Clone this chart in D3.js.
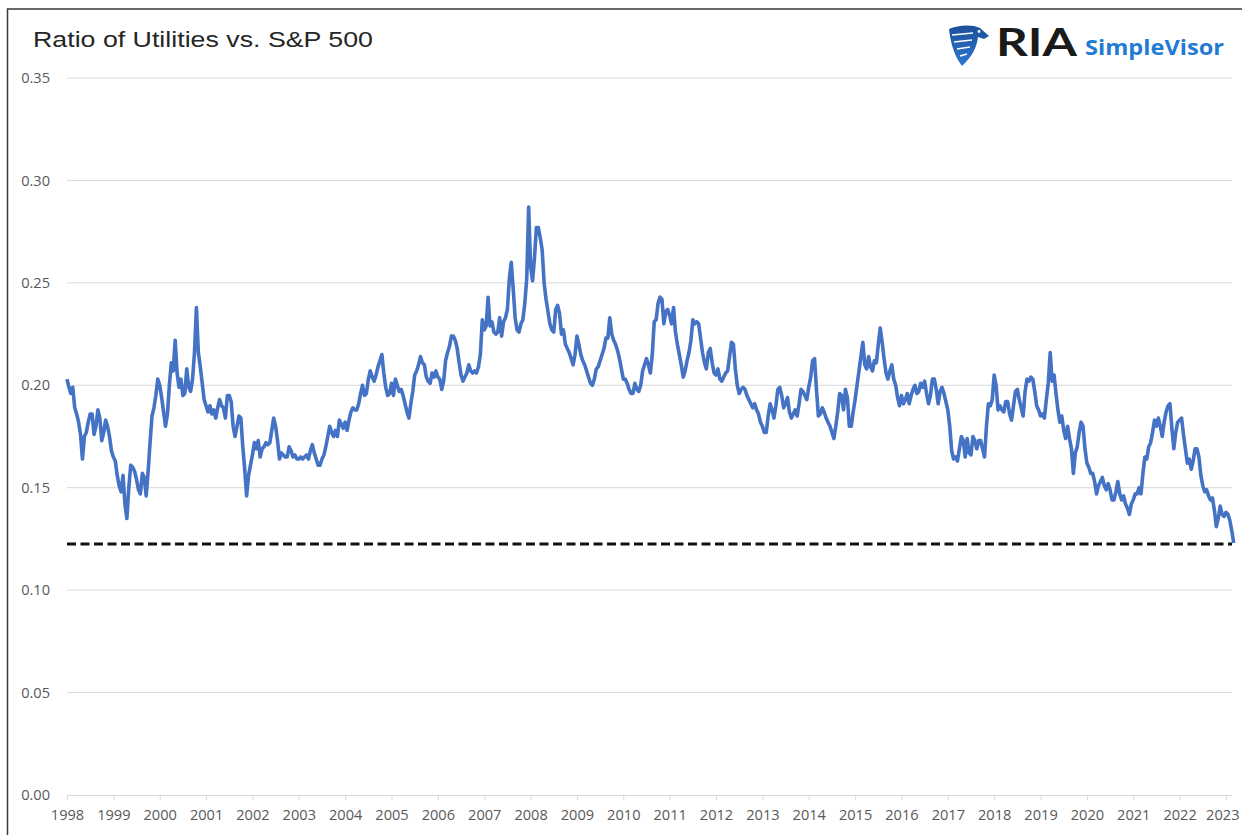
<!DOCTYPE html>
<html>
<head>
<meta charset="utf-8">
<script src="https://cdn.jsdelivr.net/npm/d3@7"></script>
<style>
  body { margin: 0; background: #ffffff; }
</style>
</head>
<body>
<script>
const svgWidth = 1242
const svgHeight = 835

const margin = {
    top: 78,
    right: 10,
    bottom: 40,
    left: 67
    }

const chartHeight = svgHeight - margin.top - margin.bottom
const chartWidth = 1232 - margin.left

// ratio readings, 24 per year (half-monthly)
const y1998 = [.203,.199,.196,.199,.189,.186,.182,.176,.164,.175,.177,.182,.186,.186,.176,.180,.188,.184,.173,.177,.183,.180,.175,.168]
const y1999 = [.165,.163,.156,.151,.148,.156,.142,.135,.150,.161,.160,.158,.154,.149,.147,.157,.155,.146,.158,.172,.185,.189,.195,.203]
const y2000 = [.200,.194,.187,.180,.186,.200,.211,.207,.222,.206,.199,.203,.195,.196,.208,.199,.197,.203,.216,.238,.216,.209,.201,.193]
const y2001 = [.190,.187,.190,.186,.188,.184,.189,.193,.190,.189,.184,.195,.195,.192,.180,.175,.180,.185,.184,.170,.159,.146,.156,.161]
const y2002 = [.166,.172,.169,.173,.165,.169,.170,.172,.171,.172,.178,.184,.180,.173,.164,.167,.166,.165,.165,.170,.168,.165,.166,.164]
const y2003 = [.164,.165,.164,.165,.166,.164,.168,.171,.167,.164,.161,.161,.164,.166,.170,.175,.180,.177,.175,.178,.175,.183,.181,.179]
const y2004 = [.182,.178,.183,.187,.189,.188,.188,.191,.196,.200,.195,.196,.203,.207,.204,.202,.205,.209,.212,.215,.206,.199,.195,.196]
const y2005 = [.201,.195,.203,.200,.197,.198,.195,.191,.187,.184,.191,.197,.205,.207,.210,.214,.211,.210,.204,.202,.201,.206,.204,.207]
const y2006 = [.204,.203,.198,.202,.212,.216,.219,.224,.224,.222,.218,.211,.205,.202,.204,.206,.210,.207,.206,.207,.206,.209,.215,.232]
const y2007 = [.227,.229,.243,.229,.231,.226,.225,.226,.233,.224,.231,.233,.237,.252,.260,.247,.233,.227,.226,.230,.232,.240,.252,.287]
const y2008 = [.258,.251,.262,.277,.277,.272,.266,.250,.242,.236,.230,.227,.226,.237,.239,.235,.225,.227,.220,.218,.216,.213,.210,.215]
const y2009 = [.224,.220,.215,.212,.210,.207,.204,.201,.200,.203,.208,.209,.212,.215,.218,.223,.223,.233,.225,.222,.220,.217,.213,.208]
const y2010 = [.203,.203,.201,.198,.196,.196,.201,.198,.197,.200,.207,.210,.213,.210,.206,.215,.231,.232,.240,.243,.242,.230,.236,.237]
const y2011 = [.234,.230,.238,.226,.220,.215,.210,.204,.207,.212,.216,.222,.232,.230,.231,.230,.223,.216,.211,.208,.216,.218,.211,.206]
const y2012 = [.205,.208,.203,.202,.204,.206,.207,.214,.221,.220,.208,.200,.196,.198,.199,.198,.195,.193,.191,.189,.191,.188,.186,.182]
const y2013 = [.180,.177,.177,.185,.191,.188,.184,.190,.198,.199,.195,.189,.191,.194,.187,.184,.186,.188,.185,.191,.198,.197,.195,.193]
const y2014 = [.199,.204,.212,.213,.198,.185,.186,.189,.187,.184,.182,.180,.177,.174,.180,.187,.196,.195,.188,.198,.194,.180,.180,.187]
const y2015 = [.193,.200,.207,.214,.221,.210,.208,.214,.209,.207,.212,.211,.220,.228,.221,.213,.206,.203,.207,.210,.203,.200,.194,.190]
const y2016 = [.195,.191,.193,.196,.191,.195,.198,.200,.196,.197,.201,.199,.202,.196,.191,.195,.203,.203,.198,.191,.197,.199,.196,.192]
const y2017 = [.188,.180,.168,.164,.165,.163,.169,.175,.173,.165,.174,.167,.166,.175,.173,.169,.173,.173,.169,.165,.180,.191,.190,.193]
const y2018 = [.205,.200,.188,.190,.188,.187,.192,.192,.186,.183,.190,.197,.198,.193,.189,.185,.197,.203,.202,.204,.203,.197,.190,.188]
const y2019 = [.185,.186,.184,.193,.201,.216,.202,.205,.196,.188,.182,.185,.178,.174,.180,.174,.169,.157,.167,.170,.177,.182,.180,.169]
const y2020 = [.162,.160,.157,.157,.153,.147,.151,.153,.155,.151,.149,.152,.149,.144,.144,.148,.153,.147,.144,.146,.142,.140,.137,.142]
const y2021 = [.144,.147,.147,.150,.147,.157,.165,.164,.170,.172,.177,.183,.180,.184,.180,.175,.182,.187,.190,.191,.179,.169,.177,.182]
const y2022 = [.183,.184,.176,.169,.162,.164,.159,.163,.169,.169,.165,.156,.151,.148,.149,.146,.144,.145,.139,.131,.135,.141,.137,.136]
const y2023 = [.138,.137,.134,.129,.123]

const years = [1998,1999,2000,2001,2002,2003,2004,2005,2006,2007,2008,2009,2010,2011,2012,2013,2014,2015,2016,2017,2018,2019,2020,2021,2022,2023]
const yTicks = [0, 0.05, 0.10, 0.15, 0.20, 0.25, 0.30, 0.35]
const floorLevel = 0.1225

const yearly = [y1998,y1999,y2000,y2001,y2002,y2003,y2004,y2005,y2006,y2007,y2008,y2009,y2010,y2011,y2012,y2013,y2014,y2015,y2016,y2017,y2018,y2019,y2020,y2021,y2022,y2023]

const data = []
yearly.forEach((vals, i) => {
    vals.forEach((v, j) => data.push({ t: years[i] + j / 24, v: v }))
})

const svg = d3.select("body").append("svg")
    .attr("height", svgHeight)
    .attr("width", svgWidth)

// outer frame
svg.append("rect")
    .attr("x", 7.5)
    .attr("y", 9)
    .attr("width", 1240)
    .attr("height", 840)
    .attr("fill", "none")
    .attr("stroke", "#3a3a3a")
    .attr("stroke-width", 1.5)

const chartG = svg.append("g")
    .attr("transform", `translate(${margin.left}, ${margin.top})`)

const x = d3.scaleLinear()
    .domain([1998, 2023.13])
    .range([0, chartWidth])

const y = d3.scaleLinear()
    .domain([0, 0.35])
    .range([chartHeight, 0])

// gridlines
chartG.append("g")
    .selectAll("line")
    .data(yTicks.slice(1))
    .enter()
    .append("line")
    .attr("x1", 0)
    .attr("x2", chartWidth)
    .attr("y1", d => y(d))
    .attr("y2", d => y(d))
    .attr("stroke", "#d9d9d9")
    .attr("stroke-width", 1)

const yAxis = d3.axisLeft(y)
    .tickValues(yTicks)
    .tickFormat(d3.format(".2f"))
    .tickSize(0)
    .tickPadding(17)

const xAxis = d3.axisBottom(x)
    .tickValues(years)
    .tickFormat(d => d)
    .tickSizeInner(5)
    .tickSizeOuter(0)
    .tickPadding(10)

const yG = chartG.append("g")
    .call(yAxis)
yG.select(".domain").remove()

const xG = chartG.append("g")
    .attr("transform", `translate(0, ${chartHeight})`)
    .call(xAxis)
xG.select(".domain")
    .attr("stroke", "#d9d9d9")
    .attr("d", `M0,0.5H${chartWidth}`)
xG.selectAll(".tick line")
    .attr("stroke", "#d9d9d9")

chartG.selectAll(".tick text")
    .attr("fill", "#595959")
    .style("font-family", "'Open Sans', sans-serif")
    .style("font-size", "14.6px")

// keep the last year label inside the picture
xG.selectAll(".tick text")
    .filter(d => d === years[years.length - 1])
    .attr("text-anchor", "end")
    .attr("x", 1239 - margin.left - x(years[years.length - 1]))

// dashed floor line
chartG.append("line")
    .attr("x1", x(1998))
    .attr("x2", chartWidth)
    .attr("y1", y(floorLevel))
    .attr("y2", y(floorLevel))
    .attr("stroke", "#111111")
    .attr("stroke-width", 3)
    .attr("stroke-dasharray", "9,4.5")

const line = d3.line()
    .x(d => x(d.t))
    .y(d => y(d.v))

chartG.append("path")
    .attr("d", line(data))
    .attr("fill", "none")
    .attr("stroke", "#4472C4")
    .attr("stroke-width", 3.6)
    .attr("stroke-linejoin", "round")

// title
svg.append("text")
    .attr("x", 33)
    .attr("y", 47)
    .attr("textLength", 340)
    .attr("lengthAdjust", "spacingAndGlyphs")
    .attr("fill", "#262626")
    .style("font-family", "'Liberation Sans', Arial, sans-serif")
    .style("font-size", "21.5px")
    .text("Ratio of Utilities vs. S&P 500")

// logo
const logo = svg.append("g")

const grad = svg.append("defs").append("linearGradient")
    .attr("id", "eagle")
    .attr("x1", "0").attr("y1", "0").attr("x2", "0").attr("y2", "1")
grad.append("stop").attr("offset", "0").attr("stop-color", "#1d4f9c")
grad.append("stop").attr("offset", "1").attr("stop-color", "#2b78d0")

logo.append("path")
    .attr("d", "M949,29 C958,25 972,24 980,28 L989,36 L984,39 L978,37 C977,47 972,57 962,66 C956,58 951,47 949,29 Z")
    .attr("fill", "url(#eagle)")

logo.selectAll(".feather")
    .data([[952, 35, 973, 33], [954, 42, 972, 40], [957, 49, 970, 47], [960, 56, 967, 54]])
    .enter()
    .append("line")
    .attr("x1", d => d[0]).attr("y1", d => d[1])
    .attr("x2", d => d[2]).attr("y2", d => d[3])
    .attr("stroke", "#ffffff")
    .attr("stroke-width", 1.6)

logo.append("circle")
    .attr("cx", 979).attr("cy", 31.5).attr("r", 1.4)
    .attr("fill", "#ffffff")

logo.append("text")
    .attr("x", 996)
    .attr("y", 56)
    .attr("textLength", 81)
    .attr("lengthAdjust", "spacingAndGlyphs")
    .attr("fill", "#1a1a1a")
    .style("font-family", "Lato, sans-serif")
    .style("font-weight", "700")
    .style("font-size", "38px")
    .text("RIA")

logo.append("text")
    .attr("x", 1085)
    .attr("y", 55)
    .attr("textLength", 139)
    .attr("lengthAdjust", "spacingAndGlyphs")
    .attr("fill", "#1f7bd3")
    .style("font-family", "'Open Sans', sans-serif")
    .style("font-weight", "700")
    .style("font-size", "22px")
    .text("SimpleVisor")
</script>
</body>
</html>
